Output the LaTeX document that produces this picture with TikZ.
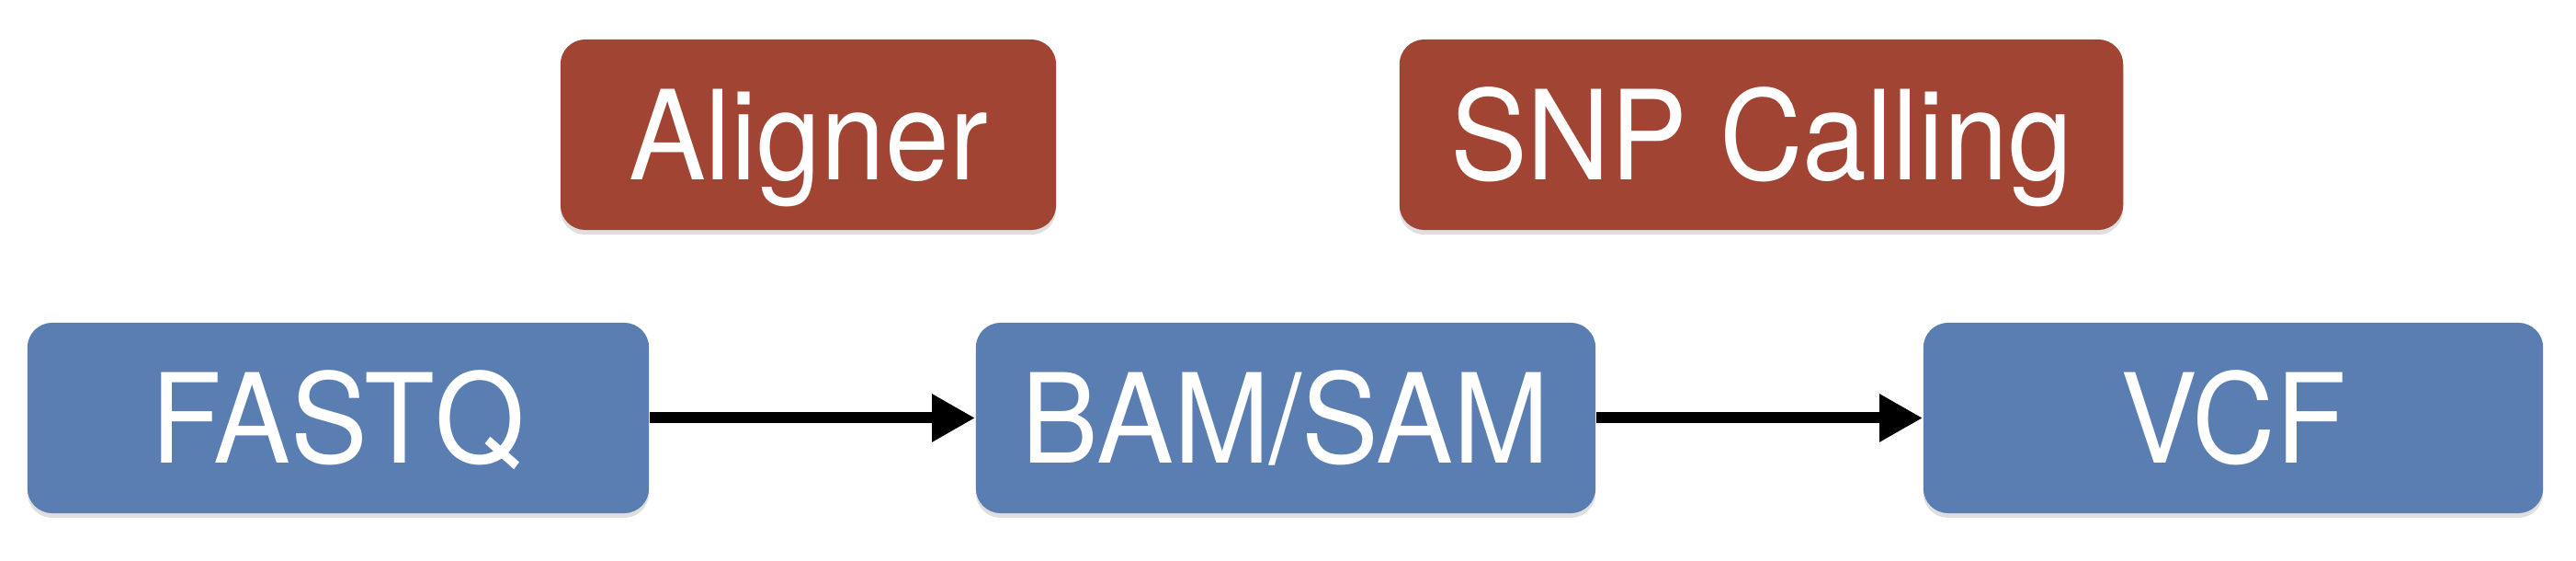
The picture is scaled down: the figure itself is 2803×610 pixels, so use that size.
\documentclass[tikz,border=0pt]{standalone}
\usepackage{fontspec}
\setmainfont{TeX Gyre Heros}[FakeStretch=0.93]
\usepackage{tikz}
\usetikzlibrary{arrows.meta,shadows}
\definecolor{fileblue}{RGB}{90,125,178}
\definecolor{toolred}{RGB}{161,68,51}

\begin{document}
\begin{tikzpicture}[x=0.01cm, y=-0.01cm,
      box/.style={rounded corners=0.27cm, minimum height=2.07cm, inner sep=0pt,
        text=white, font=\fontsize{38.4}{46}\selectfont, text height=0.97cm, text depth=0pt,
        drop shadow={shadow xshift=0pt, shadow yshift=-0.05cm, opacity=0.25}},
      datafile/.style={box, fill=fileblue},
      tool/.style={box, fill=toolred},
      flow/.style={line width=0.12cm, -{Triangle[length=0.47cm, width=0.49cm]}}
    ]
      \useasboundingbox (0,0) rectangle (2803,610);

      % tools
      \node[tool, minimum width=5.39cm] (aligner) at (879.5,146.5) {Aligner};
      \node[tool, minimum width=7.87cm] (snpcall) at (1916.5,146.5) {SNP Calling};

      % file formats
      \node[datafile, minimum width=6.76cm] (fastq) at (368,454.5) {FASTQ};
      \node[datafile, minimum width=6.74cm] (bam) at (1399,454.5) {BAM/SAM};
      \node[datafile, minimum width=6.74cm] (vcf) at (2430,454.5) {VCF};

      \draw[flow] (fastq.east) -- (bam.west);
      \draw[flow] (bam.east) -- (vcf.west);
    \end{tikzpicture}
\end{document}
